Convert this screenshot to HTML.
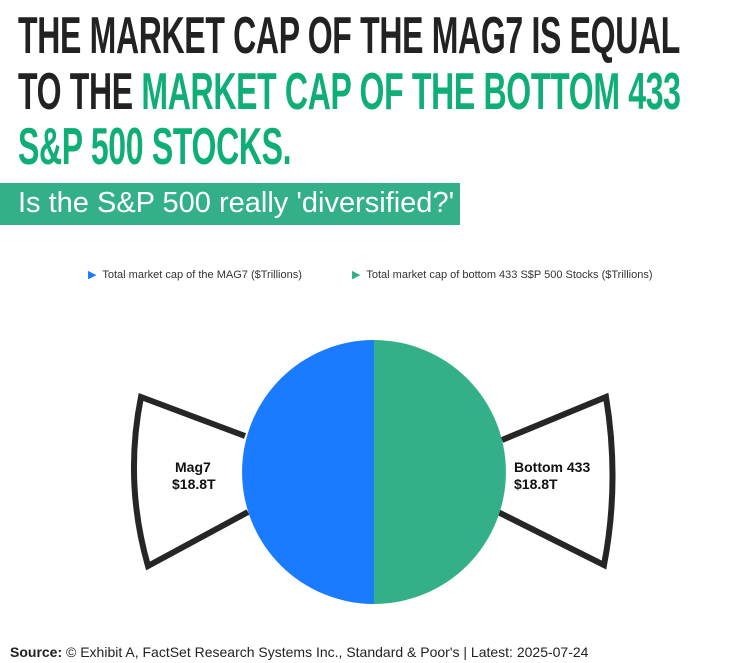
<!DOCTYPE html>
<html><head><style>
body{margin:0;width:734px;height:663px;background:#fff;overflow:hidden;position:relative;font-family:"Liberation Sans",sans-serif}
.t{position:absolute;left:18px;font-weight:bold;font-size:52px;line-height:52px;color:#222;transform:scaleX(0.615);transform-origin:0 0;white-space:nowrap;letter-spacing:-0.5px}
.g{color:#0fae75}
.ban{position:absolute;left:0;top:183px;width:460px;height:42px;background:#33b08a;color:#fff;font-size:29px;line-height:42px;white-space:nowrap}
.ban span{position:absolute;left:18px;top:-1px}
.leg{position:absolute;top:268px;font-size:11px;color:#333;white-space:nowrap}
.foot{position:absolute;left:10px;top:644px;font-size:14px;color:#222;white-space:nowrap}
</style></head><body>
<div class="t" style="top:10px">THE MARKET CAP OF THE MAG7 IS EQUAL</div>
<div class="t" style="top:66px">TO THE <span class="g">MARKET CAP OF THE BOTTOM 433</span></div>
<div class="t g" style="top:121px">S&amp;P 500 STOCKS.</div>
<div class="ban"><span>Is the S&amp;P 500 really 'diversified?'</span></div>
<div class="leg" style="left:88px"><span style="color:#1a7bff">&#9654;</span>&nbsp; Total market cap of the MAG7 ($Trillions)</div>
<div class="leg" style="left:352px"><span style="color:#33b08a">&#9654;</span>&nbsp; Total market cap of bottom 433 S$P 500 Stocks ($Trillions)</div>
<svg width="734" height="663" style="position:absolute;left:0;top:0">
<path d="M245,436 L141,397 Q124,482 148,566 L248,512" fill="none" stroke="#262626" stroke-width="6"/>
<path d="M502,440 L606,397 Q620,482 604,565 L498,512" fill="none" stroke="#262626" stroke-width="6"/>
<path d="M374,340 A132,132 0 0 0 374,604 Z" fill="#1a7bff"/>
<path d="M374,340 A132,132 0 0 1 374,604 Z" fill="#33b08a"/>
<g font-family="Liberation Sans" font-weight="bold" font-size="14" fill="#111">
<text x="175" y="472">Mag7</text><text x="172" y="489">$18.8T</text>
<text x="514" y="472">Bottom 433</text><text x="514" y="489">$18.8T</text>
</g>
</svg>
<div class="foot"><b>Source:</b> © Exhibit A, FactSet Research Systems Inc., Standard &amp; Poor's | Latest: 2025-07-24</div>
</body></html>
